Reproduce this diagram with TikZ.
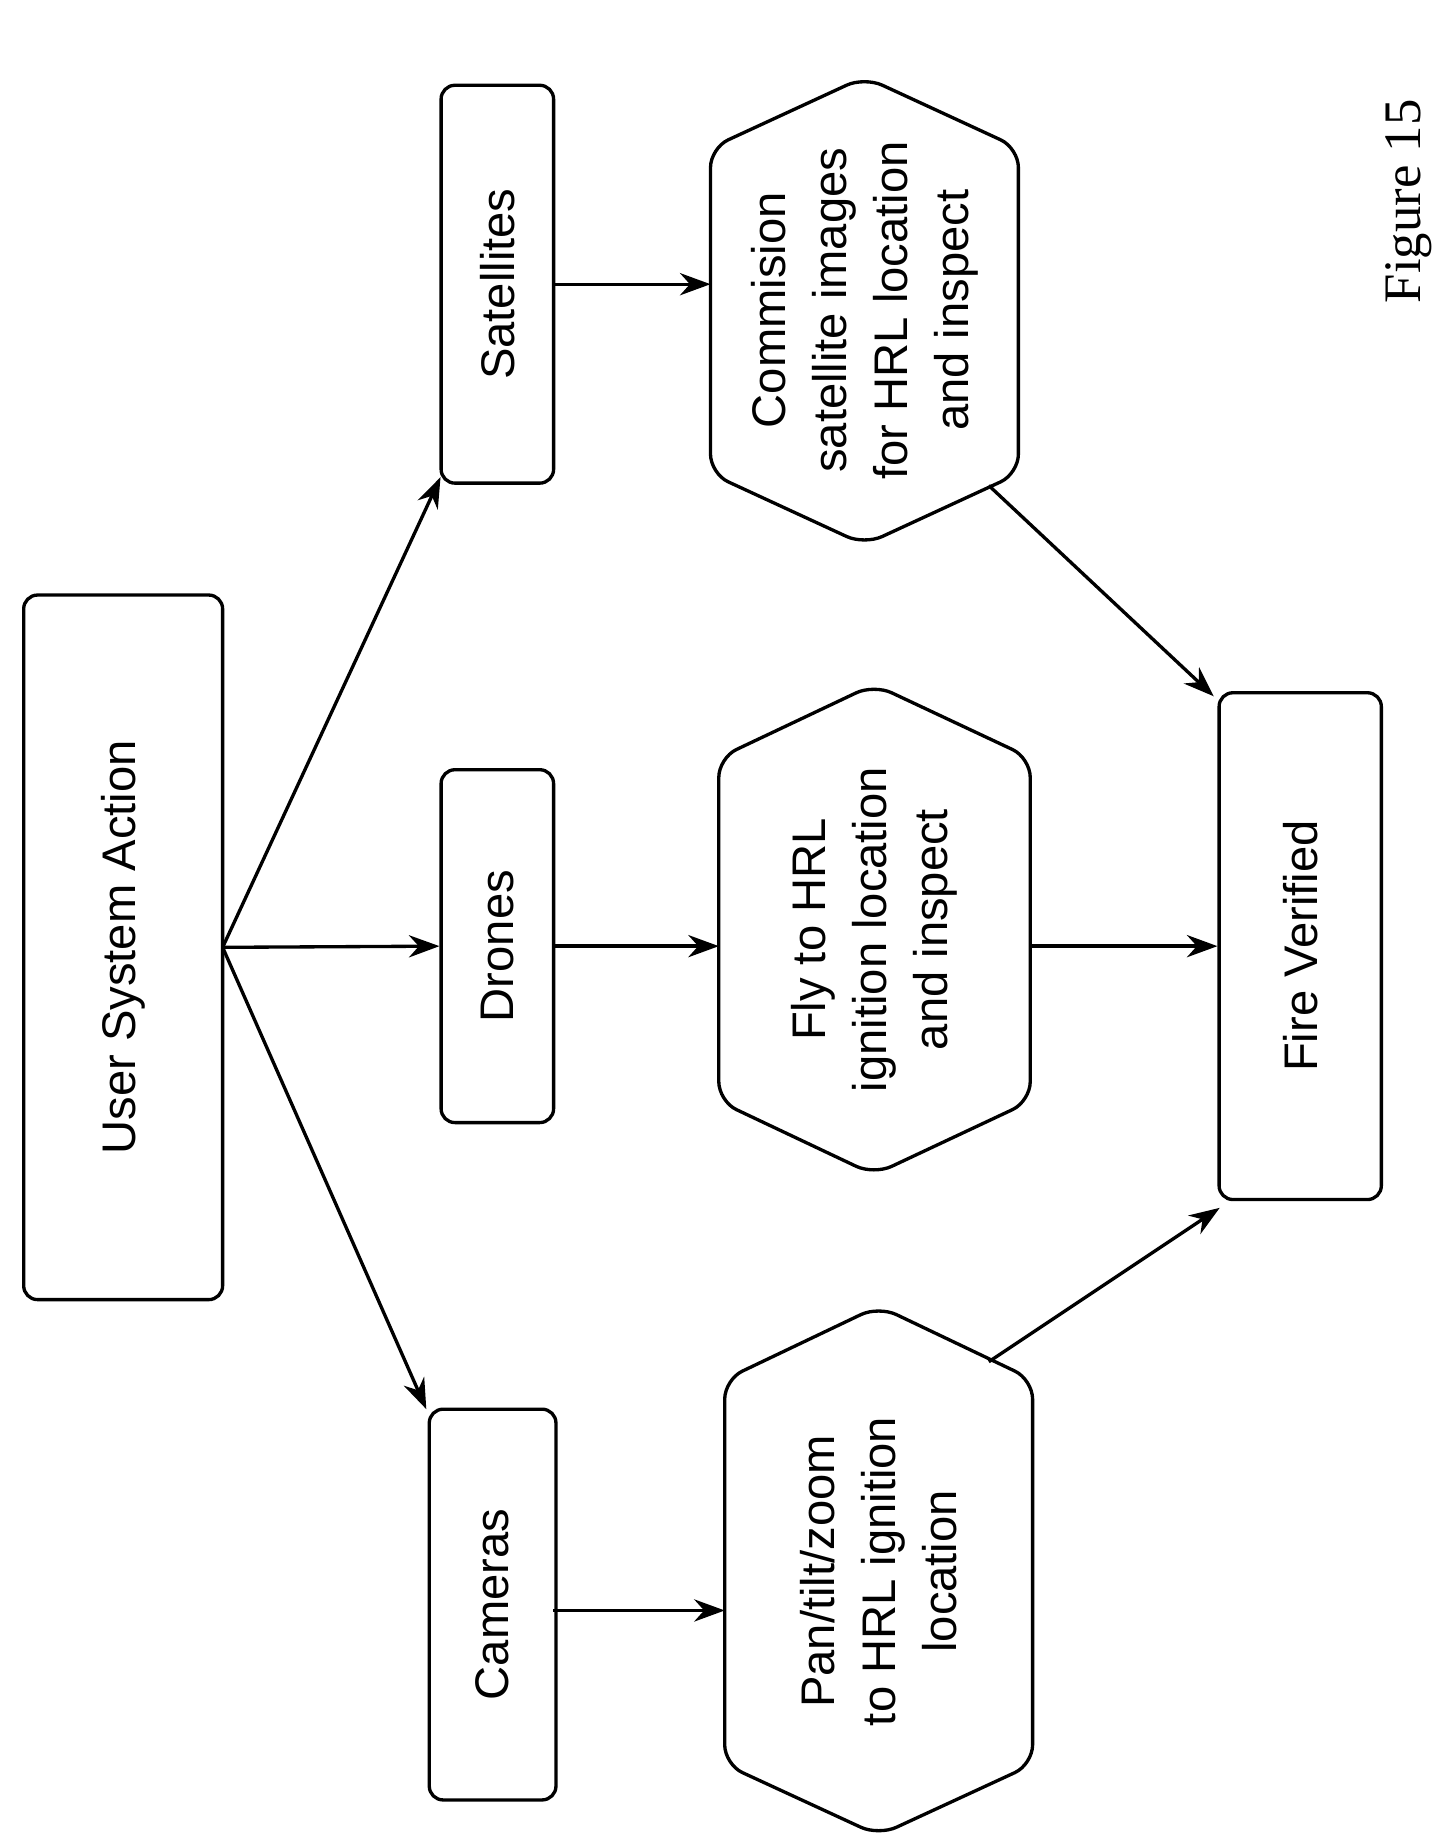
\documentclass[tikz,border=0pt]{standalone}
\usepackage{fontspec}
\setmainfont{Liberation Sans}
\newfontfamily\seriff{Liberation Serif}
\usetikzlibrary{arrows.meta}
\begin{document}
\begin{tikzpicture}[x=0.03cm,y=-0.03cm,line width=2.4pt,
  box/.style={draw,rounded corners=10pt,rotate=90,inner sep=0pt},
  txt/.style={rotate=90,align=center,font=\fontsize{34}{44}\selectfont},
  arr/.style={-{Stealth[length=22pt,width=16pt]}},
  hex/.style={draw,rounded corners=14pt}]
\useasboundingbox (0,0) rectangle (1220,1553);
\node[box,minimum width=595*0.03cm,minimum height=168*0.03cm] (usa) at (104,800) {};
\node[txt] at (usa) {User System Action};
\node[box,minimum width=336*0.03cm,minimum height=95*0.03cm] (sat) at (420,240) {};
\node[txt] at (sat) {Satellites};
\node[box,minimum width=298*0.03cm,minimum height=95*0.03cm] (dro) at (420,799) {};
\node[txt] at (dro) {Drones};
\node[box,minimum width=330*0.03cm,minimum height=107*0.03cm] (cam) at (416,1355) {};
\node[txt] at (cam) {Cameras};
\node[box,minimum width=428*0.03cm,minimum height=137*0.03cm] (fv) at (1098,799) {};
\node[txt] at (fv) {Fire Verified};
\draw[hex] (730,65)--(860,125)--(860,400)--(730,460)--(600,400)--(600,125)--cycle;
\node[txt] (h1) at (730,262) {Commision\\satellite images\\for HRL location\\and inspect};
\draw[hex] (738,578)--(870,640)--(870,930)--(738,992)--(607,930)--(607,640)--cycle;
\node[txt] (h2) at (738,785) {Fly to HRL\\ignition location\\and inspect};
\draw[hex] (742,1103)--(872,1165)--(872,1490)--(742,1550)--(612,1490)--(612,1165)--cycle;
\node[txt] (h3) at (742,1327) {Pan/tilt/zoom\\to HRL ignition\\location};
\coordinate (u) at (188,800);
\coordinate (h1l) at (600,240); \coordinate (h2l) at (607,799); \coordinate (h3l) at (612,1360);
\coordinate (h1r) at (835,410); \coordinate (h2r) at (870,799); \coordinate (h3r) at (835,1150);
\coordinate (fv1) at (1025,588); \coordinate (fv2) at (1030,1020);
\coordinate (s1) at (372,403); \coordinate (c1) at (360,1190);
\draw[arr] (u)--(s1);
\draw[arr] (u)--(dro.north);
\draw[arr] (u)--(c1);
\draw[arr] (sat.south)--(h1l);
\draw[arr] (dro.south)--(h2l);
\draw[arr] (467,1360)--(h3l);
\draw[arr] (h1r)--(fv1);
\draw[arr] (h2r)--(fv.north);
\draw[arr] (h3r)--(fv2);
\node[rotate=90,font=\seriff\fontsize{38}{44}\selectfont] (fig) at (1190,170) {Figure 15};
\end{tikzpicture}
\end{document}
